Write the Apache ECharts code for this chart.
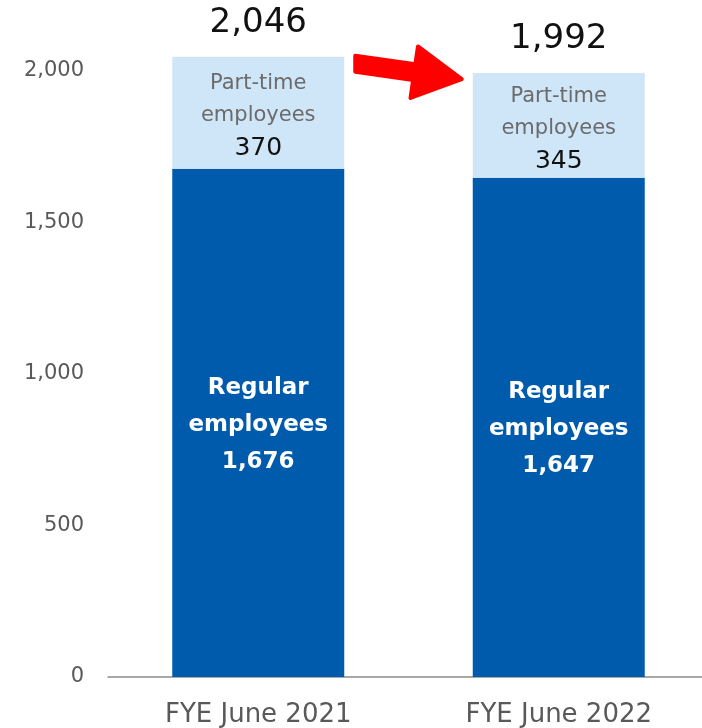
<!DOCTYPE html>
<html>
<head>
<meta charset="utf-8">
<script src="https://cdn.jsdelivr.net/npm/echarts@6/dist/echarts.min.js"></script>
<style>
  html, body { margin: 0; padding: 0; background: #fff; overflow: hidden; }
  #chart { width: 702px; height: 728px; }
</style>
</head>
<body>
<div id="chart"></div>
<script>
const categories = ['FYE June 2021', 'FYE June 2022'];
const regularEmployees = [1676, 1647];
const partTimeEmployees = [370, 345];
const totalEmployees = [2046, 1992];
const yTicks = [0, 500, 1000, 1500, 2000];

const FONT = '"DejaVu Sans", sans-serif';
const fmt = v => v.toLocaleString('en-US');

const chart = echarts.init(document.getElementById('chart'), null, { renderer: 'canvas' });

chart.setOption({
  animation: false,
  grid: { left: 108, width: 601, top: 10, bottom: 51, containLabel: false, outerBoundsMode: 'none' },
  xAxis: {
    type: 'category',
    data: categories,
    axisTick: { show: false },
    axisLine: { lineStyle: { color: '#8c8c8c', width: 1.5 } },
    axisLabel: { color: '#595959', fontSize: 26, fontFamily: FONT, margin: 25 }
  },
  yAxis: {
    type: 'value',
    min: 0,
    max: 2200,
    interval: 500,
    splitLine: { show: false },
    axisLine: { show: false },
    axisTick: { show: false },
    axisLabel: {
      color: '#595959', fontSize: 21, fontFamily: FONT, margin: 24,
      showMaxLabel: false,
      formatter: v => (yTicks.includes(v) ? fmt(v) : '')
    }
  },
  series: [
    {
      name: 'Regular employees',
      type: 'bar',
      stack: 'staff',
      barWidth: 172,
      data: regularEmployees,
      itemStyle: { color: '#005bac' },
      label: {
        show: true,
        position: 'inside',
        offset: [0, 2],
        fontFamily: FONT,
        formatter: p => '{t|Regular}\n{t|employees}\n{t|' + fmt(p.value) + '}',
        rich: { t: { color: '#ffffff', fontSize: 23, fontWeight: 'bold', lineHeight: 37, fontFamily: FONT } }
      }
    },
    {
      name: 'Part-time employees',
      type: 'bar',
      stack: 'staff',
      data: partTimeEmployees,
      itemStyle: { color: '#cfe5f8' },
      label: {
        show: true,
        position: 'inside',
        offset: [0, 4],
        fontFamily: FONT,
        formatter: p => '{a|Part-time}\n{a|employees}\n{b|' + fmt(p.value) + '}',
        rich: {
          a: { color: '#6b6b6b', fontSize: 21, lineHeight: 32, fontFamily: FONT },
          b: { color: '#111111', fontSize: 25, lineHeight: 34, fontFamily: FONT }
        }
      }
    },
    {
      name: 'Total',
      type: 'bar',
      stack: 'staff',
      data: totalEmployees.map(() => 0),
      itemStyle: { color: 'transparent' },
      label: {
        show: true,
        position: 'top',
        distance: 17,
        color: '#111111',
        fontSize: 34,
        fontFamily: FONT,
        formatter: p => fmt(totalEmployees[p.dataIndex])
      }
    }
  ]
});

// Red arrow pointing from the first total to the second one
function drawArrow() {
  const p1 = chart.convertToPixel({ seriesIndex: 0 }, [0, totalEmployees[0]]);
  const p2 = chart.convertToPixel({ seriesIndex: 0 }, [1, totalEmployees[1]]);
  const halfBar = 86;
  const sx = p1[0] + halfBar + 11, sy = p1[1] + 7;
  const ex = p2[0] - halfBar - 11, ey = p2[1] + 6;
  const dx = ex - sx, dy = ey - sy;
  const len = Math.hypot(dx, dy);
  const ux = dx / len, uy = dy / len;
  // unit normal on the upper side of the shaft
  const nx = uy, ny = -ux;
  const shaft = 8, head = 26, headLen = 48;
  const bx = ex - ux * headLen, by = ey - uy * headLen;
  const pts = [
    [sx, sy - shaft],
    [bx + nx * shaft, by + ny * shaft],
    [bx + nx * head, by + ny * head],
    [ex, ey],
    [bx - nx * head, by - ny * head],
    [bx - nx * shaft, by - ny * shaft],
    [sx, sy + shaft]
  ];
  chart.setOption({
    graphic: [{
      type: 'polygon',
      shape: { points: pts },
      style: { fill: '#ff0000', stroke: '#ff0000', lineWidth: 4, lineJoin: 'round' },
      z: 100
    }]
  });
}
drawArrow();
</script>
</body>
</html>
